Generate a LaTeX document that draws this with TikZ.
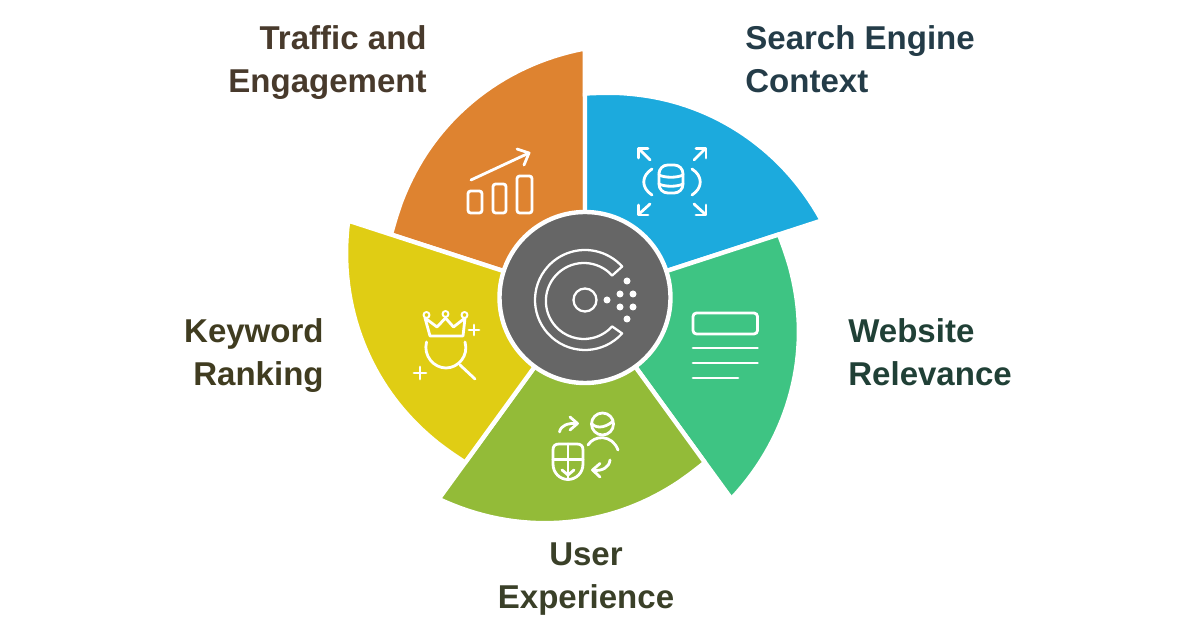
\documentclass[tikz,border=0pt]{standalone}
\usepackage{fontspec}
\setmainfont{Liberation Sans}
\definecolor{my_orange}{RGB}{222, 131, 48}
\definecolor{my_blue}{RGB}{28, 170, 221}
\definecolor{my_green}{RGB}{62, 196, 131}
\definecolor{my_olive}{RGB}{147, 187, 56}
\definecolor{my_yellow}{RGB}{224, 205, 20}
\definecolor{my_hub}{RGB}{102, 102, 102}
\definecolor{my_brown}{RGB}{72, 58, 44}
\definecolor{my_slate}{RGB}{36, 60, 72}
\definecolor{my_pine}{RGB}{32, 64, 54}
\definecolor{my_moss}{RGB}{58, 64, 40}
\definecolor{my_khaki}{RGB}{64, 60, 32}
\tikzset {
  petal/.style = {draw=white, line width=2.5, line join=round},
  hub/.style = {circle, draw=white, line width=2.5, fill=my_hub, minimum size=171*0.02cm, inner sep=0},
  label/.style = {font=\fontsize{18.8}{24.5}\selectfont\bfseries, inner sep=0},
  icon/.style = {draw=white, line width=1.6pt, line cap=round, line join=round},
  dot/.style = {fill=white, draw=none}
}
\begin{document}
\begin{tikzpicture}[x=0.02cm, y=0.02cm]
    \useasboundingbox (0,0) rectangle (1200,628);

    % petals, clockwise
    \begin{scope}[shift={(585,330.5)}]
      \foreach \s/\c in {162/my_orange, 90/my_blue, 18/my_green, -54/my_olive, -126/my_yellow} {
        \fill[petal, fill=\c] (0,0) -- plot[domain=0:1, samples=40] ({\s-72*\x}:{204+45*\x^1.3}) -- cycle;
      }
    \end{scope}
    \node[hub] (hub) at (585,330.5) {};

    % from here on coordinates are read off the image, y downwards
    \begin{scope}[shift={(0,628)}, yscale=-1]
      \node[label, text=my_brown, anchor=north east, align=right] (traffic) at (427,25) {Traffic and\\Engagement};
      \node[label, text=my_slate, anchor=north west, align=left] (search) at (745,25) {Search Engine\\Context};
      \node[label, text=my_pine, anchor=north west, align=left] (website) at (848,318) {Website\\Relevance};
      \node[label, text=my_moss, anchor=north, align=center] (user) at (586,542) {User\\Experience};
      \node[label, text=my_khaki, anchor=north east, align=right] (keyword) at (324,318) {Keyword\\Ranking};

      % hub logo
      \draw[icon, line width=1.3pt] (585,300) ++(42:50) arc[start angle=42, end angle=318, radius=50] -- ++(138:13.5) arc[start angle=318, end angle=42, radius=38] -- cycle;
      \draw[icon, line width=1.3pt] (585,300) circle[radius=11.5];
      \foreach \px/\py in {607/300, 620/294, 633/294, 620/307, 633/307, 627/281, 627/319} {
        \fill[dot] (\px,\py) circle[radius=3.5];
      }

      % traffic icon
      \draw[icon] (471,180) -- (529,153);
      \draw[icon] (517,149) -- (529,153) -- (524,165);
      \draw[icon, rounded corners=1.5] (468,191) rectangle (482,213);
      \draw[icon, rounded corners=1.5] (493,184) rectangle (506,213);
      \draw[icon, rounded corners=1.5] (517,176) rectangle (532,213);

      % search engine icon
      \draw[icon, rounded corners=5] (659,172) -- (659,193) -- (683,193) -- (683,165) -- (659,165) -- (659,172);
      \draw[icon] (659,175) .. controls (665,178) and (677,178) .. (683,175);
      \draw[icon] (659,184) .. controls (665,187) and (677,187) .. (683,184);
      \draw[icon] (652,169) .. controls (641,176) and (641,188) .. (652,195);
      \draw[icon] (692,169) .. controls (703,176) and (703,188) .. (692,195);
      \draw[icon] (650,160) -- (639,149);
      \draw[icon] (638.5,158) -- (638.5,148.5) -- (648,148.5);
      \draw[icon] (694,160) -- (705,149);
      \draw[icon] (696,148.5) -- (706,148.5) -- (706,158);
      \draw[icon] (650,204) -- (639,214);
      \draw[icon] (638.5,205) -- (638.5,215) -- (648,215);
      \draw[icon] (694,204) -- (705,214);
      \draw[icon] (696,215) -- (706,215) -- (706,205);

      % website icon
      \draw[icon, rounded corners=2] (693,313) rectangle (757.5,334);
      \draw[icon] (693,348) -- (757.5,348);
      \draw[icon] (693,363) -- (757.5,363);
      \draw[icon] (693,378) -- (738,378);

      % user experience icon
      \draw[icon] (568,444) -- (559,444) .. controls (555,444) and (553,446) .. (553,450) -- (553,464) .. controls (553,473) and (560,479.5) .. (568,479.5) .. controls (576,479.5) and (583,473) .. (583,464) -- (583,450) .. controls (583,446) and (581,444) .. (577,444) -- cycle;
      \draw[icon] (553,459.5) -- (583,459.5);
      \draw[icon] (568,444) -- (568,479.5);
      \draw[icon] (562,470) -- (568,475) -- (574,470);
      \draw[icon] (602.5,424) circle[radius=11];
      \draw[icon] (592,424) .. controls (598,430) and (608,426) .. (613,421);
      \draw[icon] (588,445) .. controls (594,435) and (612,434) .. (618,450);
      \draw[icon] (559.5,432) .. controls (561,425) and (568,423) .. (577,423.5);
      \draw[icon] (570,417) -- (577.5,423.5) -- (570,430);
      \draw[icon] (610,460) .. controls (609,468) and (602,471) .. (593,470.5);
      \draw[icon] (600,463.5) -- (592.5,470) -- (600,477);

      % keyword icon
      \draw[icon] (430,336) -- (425,318) -- (437,327) -- (445.5,318) -- (453.5,327) -- (465,318) -- (463,336) -- cycle;
      \foreach \px/\py in {426.5/315, 445.5/314, 464.5/315} {
        \draw[icon, line width=1.1pt, fill=my_yellow] (\px,\py) circle[radius=3];
      }
      \draw[icon] (426.5,342) .. controls (423,356) and (434,368) .. (446,368) .. controls (458,368) and (469,356) .. (465,342);
      \draw[icon] (460,365) -- (475,379);
      \draw[icon] (469,330) -- (479,330);
      \draw[icon] (474,325) -- (474,335);
      \draw[icon] (414,373) -- (426,373);
      \draw[icon] (420,367) -- (420,379);
    \end{scope}
\end{tikzpicture}
\end{document}
